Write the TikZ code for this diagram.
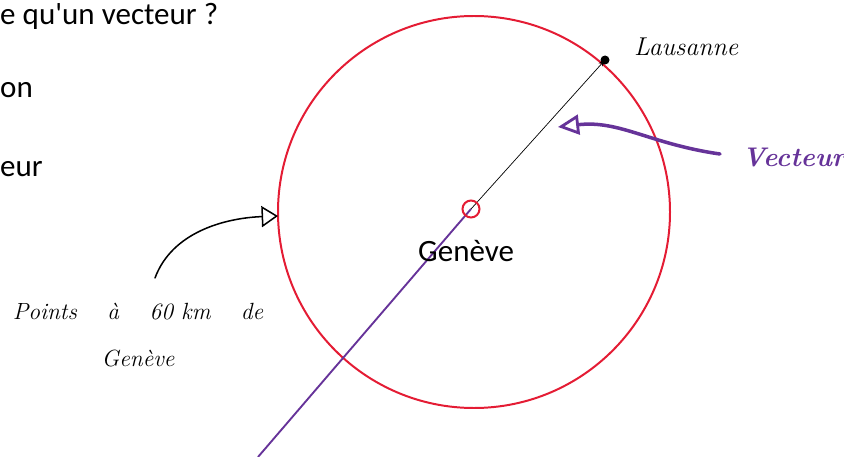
\documentclass[tikz,border=0pt]{standalone}
\usepackage{fontspec}
\newfontfamily\lavagna{Carlito}
\usetikzlibrary{arrows.meta}
\definecolor{rosso}{RGB}{228,28,52}
\definecolor{viola}{RGB}{102,51,153}
\tikzset{
  testo/.style={inner sep=0pt,anchor=base west,font=\lavagna\fontsize{26.5}{32}\selectfont},
  mano/.style={inner sep=0pt,anchor=base west,font=\rmfamily\itshape\fontsize{#1}{#1}\selectfont},
  mano/.default=18
}
\begin{document}
\begin{tikzpicture}[x=0.03cm,y=-0.03cm,>=Stealth]
        \useasboundingbox (0,0) rectangle (844,457);
        \clip (0,0) rectangle (844,457);
        % testo della diapositiva
        \node[testo] (titolo) at (0,25) {e qu'un vecteur ?};
        \node[testo] (riga1) at (0,98) {on};
        \node[testo] (riga2) at (0,177) {eur};
        % cerchio dei punti a 60 km
        \draw[rosso,line width=1.7pt] (474,212) circle (196);
        % Ginevra e Losanna
        \coordinate (centro) at (471,209);
        \coordinate (laus) at (605,60);
        \coordinate (fine) at (258,457);
        \draw[viola,line width=1.6pt] (centro) -- (fine);
        \draw[->,line width=0.6pt] (centro) -- (laus);
        \fill (laus) circle (4.5);
        \draw[rosso,line width=1.7pt] (centro) circle (8.5);
        \node[testo] (ginevra) at (418,261) {Genève};
        % annotazioni a mano
        \node[mano=22] (lausanne) at (634,56) {Lausanne};
        \node[mano=23,text=viola] (vecteur) at (742,167) {\bfseries Vecteur};
        \node[mano=20,anchor=base,align=center] (punti) at (138,366)
            {Points\hspace{1.3em}à\hspace{1.3em}60 km\hspace{1.3em}de\\[20pt]Genève};
        \coordinate (v0) at (720,154);
        \coordinate (v1) at (558,127);
        \draw[viola,line width=3pt,line cap=round,-{Triangle[open,length=18pt,width=17pt,line width=2.4pt]}]
            (v0) .. controls (650,144) and (620,120) .. (v1);
        \coordinate (p0) at (155,278);
        \coordinate (p1) at (278,216);
        \draw[line width=1.3pt,line cap=round,-{Triangle[open,length=14pt,width=18pt]}]
            (p0) .. controls (172,232) and (225,218) .. (p1);
    \end{tikzpicture}
\end{document}
